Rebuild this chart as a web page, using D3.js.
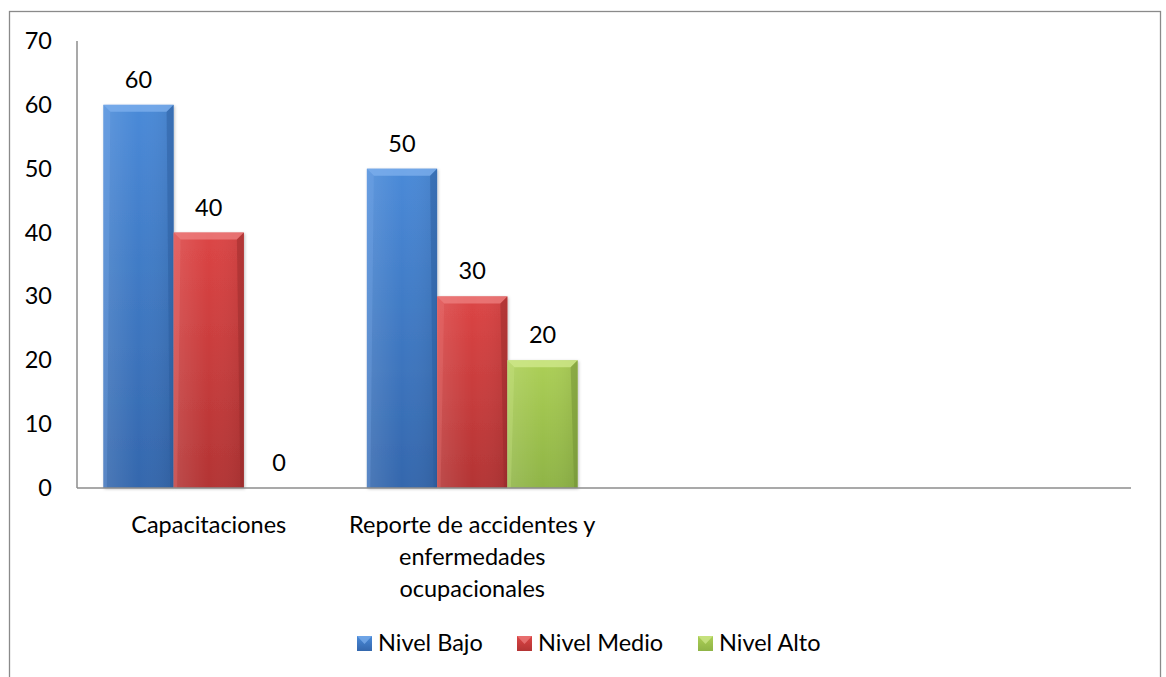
<!DOCTYPE html>
<html>
<head>
<meta charset="utf-8">
<script src="https://cdn.jsdelivr.net/npm/d3@7"></script>
<style>
  html, body { margin: 0; padding: 0; background: #fff; }
  svg { display: block; }
  text { font-family: Lato, "Open Sans", sans-serif; fill: #000; }
</style>
</head>
<body>
<svg id="chart" width="1166" height="677"></svg>
<script>
// ---- data ----
const categories = ["Capacitaciones", "Reporte de accidentes y enfermedades ocupacionales", "", ""];
const categoryLines = [["Capacitaciones"], ["Reporte de accidentes y", "enfermedades", "ocupacionales"], [], []];
const seriesNames = ["Nivel Bajo", "Nivel Medio", "Nivel Alto"];
const nivelBajo = [60, 50, null, null];
const nivelMedio = [40, 30, null, null];
const nivelAlto = [0, 20, null, null];
const yTicks = [0, 10, 20, 30, 40, 50, 60, 70];

(function () {
const seriesValues = [nivelBajo, nivelMedio, nivelAlto];
const colors = [
  { top: "#4a8ad8", bot: "#3467ad", light: "#7fb0ee", dark: "#2a5a9c" },
  { top: "#dc4545", bot: "#b33434", light: "#ee8080", dark: "#952a2a" },
  { top: "#accf56", bot: "#8fb446", light: "#d2ea8e", dark: "#6f8f34" }
];

const svg = d3.select("#chart");
const defs = svg.append("defs");
colors.forEach((c, i) => {
  const g = defs.append("linearGradient").attr("id", "grad" + i)
    .attr("x1", 0).attr("y1", 0).attr("x2", 0).attr("y2", 1);
  g.append("stop").attr("offset", "0%").attr("stop-color", c.top);
  g.append("stop").attr("offset", "100%").attr("stop-color", c.bot);
  const h = defs.append("linearGradient").attr("id", "hgrad" + i)
    .attr("x1", 0).attr("y1", 0).attr("x2", 1).attr("y2", 0);
  h.append("stop").attr("offset", "0%").attr("stop-color", "#fff").attr("stop-opacity", 0.12);
  h.append("stop").attr("offset", "50%").attr("stop-color", "#fff").attr("stop-opacity", 0);
  h.append("stop").attr("offset", "100%").attr("stop-color", "#000").attr("stop-opacity", 0.08);
});
const sh = defs.append("filter").attr("id", "shadow").attr("x", "-20%").attr("y", "-20%").attr("width", "140%").attr("height", "140%");
sh.append("feDropShadow").attr("dx", 1).attr("dy", 1).attr("stdDeviation", 1.5).attr("flood-color", "#000").attr("flood-opacity", 0.25);

// outer border
svg.append("rect").attr("x", 9.5).attr("y", 11.5).attr("width", 1151).attr("height", 720)
  .attr("fill", "none").attr("stroke", "#8a8a8a").attr("stroke-width", 1.3);

const pL = 77, pR = 1131, pT = 41, pB = 488;
const y = d3.scaleLinear().domain([0, 70]).range([pB, pT]);
const x0 = d3.scaleBand().domain(d3.range(categories.length)).range([pL, pR]).padding(0);
const gap = x0.bandwidth() * 0.2;
const x1 = d3.scaleBand().domain(d3.range(seriesNames.length)).range([gap / 2, x0.bandwidth() - gap / 2]).padding(0);

const fs = 23.5;

// y axis labels
const yAxis = d3.axisLeft(y).tickValues(yTicks).tickSize(0).tickPadding(25);
const ya = svg.append("g").attr("transform", `translate(${pL},0)`).call(yAxis);
ya.select(".domain").remove();
ya.selectAll("text").style("font-size", fs + "px").style("font-family", "Lato, 'Open Sans', sans-serif").attr("fill", "#000");

// axis lines
svg.append("line").attr("x1", pL).attr("x2", pL).attr("y1", pT).attr("y2", pB)
  .attr("stroke", "#8c8c8c").attr("stroke-width", 1.5);

// bars
const bev = 7;
seriesValues.forEach((vals, si) => {
  vals.forEach((v, ci) => {
    if (v === null) return;
    const bx = x0(ci) + x1(si), bw = x1.bandwidth();
    const by = y(v), bh = y(0) - y(v);
    const g = svg.append("g");
    if (bh > 0) {
      g.append("rect").attr("x", bx).attr("y", by).attr("width", bw).attr("height", bh)
        .attr("fill", `url(#grad${si})`).attr("filter", "url(#shadow)");
      g.append("rect").attr("x", bx).attr("y", by).attr("width", bw).attr("height", bh)
        .attr("fill", `url(#hgrad${si})`);
      const b = Math.min(bev, bh / 2);
      g.append("polygon").attr("points", [[bx, by], [bx + bw, by], [bx + bw - b, by + b], [bx + b, by + b]].map(p => p.join(",")).join(" "))
        .attr("fill", colors[si].light).attr("opacity", 0.75);
      g.append("polygon").attr("points", [[bx, by], [bx + b, by + b], [bx + b * 0.5, by + bh], [bx, by + bh]].map(p => p.join(",")).join(" "))
        .attr("fill", colors[si].light).attr("opacity", 0.25);
      g.append("polygon").attr("points", [[bx + bw, by], [bx + bw - b, by + b], [bx + bw - b * 0.5, by + bh], [bx + bw, by + bh]].map(p => p.join(",")).join(" "))
        .attr("fill", colors[si].dark).attr("opacity", 0.45);
    }
    svg.append("text").attr("x", bx + bw / 2).attr("y", by - 17)
      .attr("text-anchor", "middle").style("font-size", fs + "px").text(v);
  });
});

svg.append("line").attr("x1", pL).attr("x2", pR).attr("y1", pB).attr("y2", pB)
  .attr("stroke", "#8c8c8c").attr("stroke-width", 1.5);

// category labels
categoryLines.forEach((lines, ci) => {
  const cx = x0(ci) + x0.bandwidth() / 2;
  lines.forEach((ln, li) => {
    svg.append("text").attr("x", cx).attr("y", 533 + li * 32)
      .attr("text-anchor", "middle").style("font-size", fs + "px").text(ln);
  });
});

// legend
const legendX = [357, 517, 698];
seriesNames.forEach((name, i) => {
  const lx = legendX[i], ly = 643;
  const g = svg.append("g");
  g.append("rect").attr("x", lx).attr("y", ly - 7).attr("width", 15).attr("height", 15)
    .attr("fill", `url(#grad${i})`);
  g.append("polygon").attr("points", [[lx, ly - 7], [lx + 15, ly - 7], [lx + 7.5, ly + 1]].map(p => p.join(",")).join(" "))
    .attr("fill", colors[i].light).attr("opacity", 0.7);
  svg.append("text").attr("x", lx + 21).attr("y", ly + 8).style("font-size", fs + "px").text(name);
});
})();
</script>
</body>
</html>
